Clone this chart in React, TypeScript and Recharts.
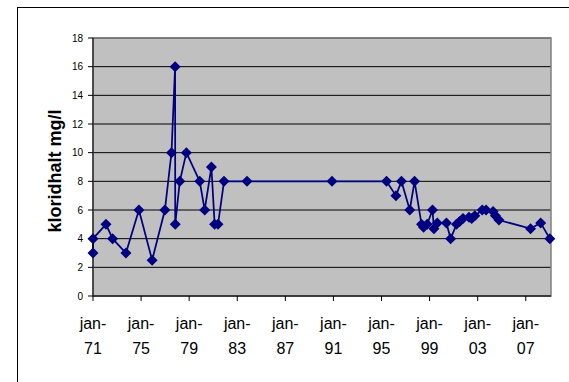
import React from "react";
import {
  LineChart,
  Line,
  XAxis,
  YAxis,
  CartesianGrid,
  ReferenceArea,
} from "recharts";

// decimal year of each sample
const years = [
  1971.0, 1971.0, 1972.08, 1972.63, 1973.74, 1974.82, 1975.92, 1976.98,
  1977.53, 1977.83, 1977.84, 1978.22, 1978.77, 1979.88, 1980.29, 1980.85,
  1981.12, 1981.4, 1981.9, 1983.81, 1990.88, 1995.42, 1996.2, 1996.66,
  1997.35, 1997.75, 1998.33, 1998.5, 1998.8, 1999.24, 1999.36, 1999.64,
  2000.4, 2000.75, 2001.24, 2001.5, 2001.78, 2002.28, 2002.5, 2002.76,
  2003.38, 2003.7, 2004.28, 2004.48, 2004.77, 2007.4, 2008.24, 2009.0,
];

// kloridhalt mg/l
const chloride = [
  3, 4, 5, 4, 3, 6, 2.5, 6,
  10, 16, 5, 8, 10, 8, 6, 9,
  5, 5, 8, 8, 8, 8, 7, 8,
  6, 8, 5, 4.8, 5, 6, 4.7, 5.1,
  5.1, 4, 5, 5.2, 5.4, 5.5, 5.4, 5.6,
  6, 6, 5.9, 5.6, 5.3, 4.7, 5.1, 4,
];

const xTicks = [1971, 1975, 1979, 1983, 1987, 1991, 1995, 1999, 2003, 2007];
const yTicks = [0, 2, 4, 6, 8, 10, 12, 14, 16, 18];

const data = years.map((year, i) => ({ year, value: chloride[i] }));

const NAVY = "#000080";
const FONT = "'Liberation Sans', Arial, sans-serif";

const Diamond = (props: any) => {
  const { cx, cy } = props;
  if (cx == null || cy == null) return null;
  const r = 5.5;
  return (
    <path
      d={`M${cx},${cy - r}L${cx + r},${cy}L${cx},${cy + r}L${cx - r},${cy}Z`}
      fill={NAVY}
      stroke="none"
    />
  );
};

const YearTick = (props: any) => {
  const { x, y, payload } = props;
  const yy = String(payload.value).slice(2);
  return (
    <g transform={`translate(${x},${y})`}>
      <text textAnchor="middle" fontFamily={FONT} fontSize={16} fill="#000">
        <tspan x={0} y={26}>jan-</tspan>
        <tspan x={0} y={51}>{yy}</tspan>
      </text>
    </g>
  );
};

export default function App() {
  return (
    <div
      style={{
        position: "absolute",
        left: 0,
        top: 0,
        width: 569,
        height: 382,
        overflow: "hidden",
        background: "#fff",
      }}
    >
      <div
        style={{
          position: "absolute",
          left: 17,
          top: 7,
          width: 600,
          height: 420,
          border: "1px solid #000",
        }}
      />
      <div style={{ position: "absolute", left: 0, top: 0 }}>
        <LineChart
          width={569}
          height={382}
          data={data}
          margin={{ top: 38, right: 18, left: 0, bottom: 0 }}
        >
          <CartesianGrid
            vertical={false}
            stroke="#000"
            strokeWidth={1}
            fill="#C0C0C0"
            fillOpacity={1}
          />
          <ReferenceArea
            x1={1971}
            x2={2009.1}
            y1={0}
            y2={18}
            fill="none"
            stroke="#808080"
            strokeWidth={1.5}
            ifOverflow="visible"
          />
          <XAxis
            dataKey="year"
            type="number"
            domain={[1971, 2009.1]}
            ticks={xTicks}
            interval={0}
            height={86}
            tickSize={5}
            axisLine={{ stroke: "#000" }}
            tickLine={{ stroke: "#000" }}
            tick={<YearTick />}
          />
          <YAxis
            type="number"
            domain={[0, 18]}
            ticks={yTicks}
            interval={0}
            width={93}
            tickSize={5}
            tickMargin={5}
            axisLine={{ stroke: "#000" }}
            tickLine={{ stroke: "#000" }}
            tick={{ fontSize: 10, fill: "#000", fontFamily: FONT }}
            label={{
              content: () => (
                <text
                  transform="translate(61,171) rotate(-90)"
                  textAnchor="middle"
                  fontFamily={FONT}
                  fontSize={18}
                  fontWeight="bold"
                  fill="#000"
                >
                  kloridhalt mg/l
                </text>
              ),
            }}
          />
          <Line
            dataKey="value"
            type="linear"
            stroke={NAVY}
            strokeWidth={1.75}
            dot={<Diamond />}
            activeDot={false}
            isAnimationActive={false}
          />
        </LineChart>
      </div>
    </div>
  );
}
